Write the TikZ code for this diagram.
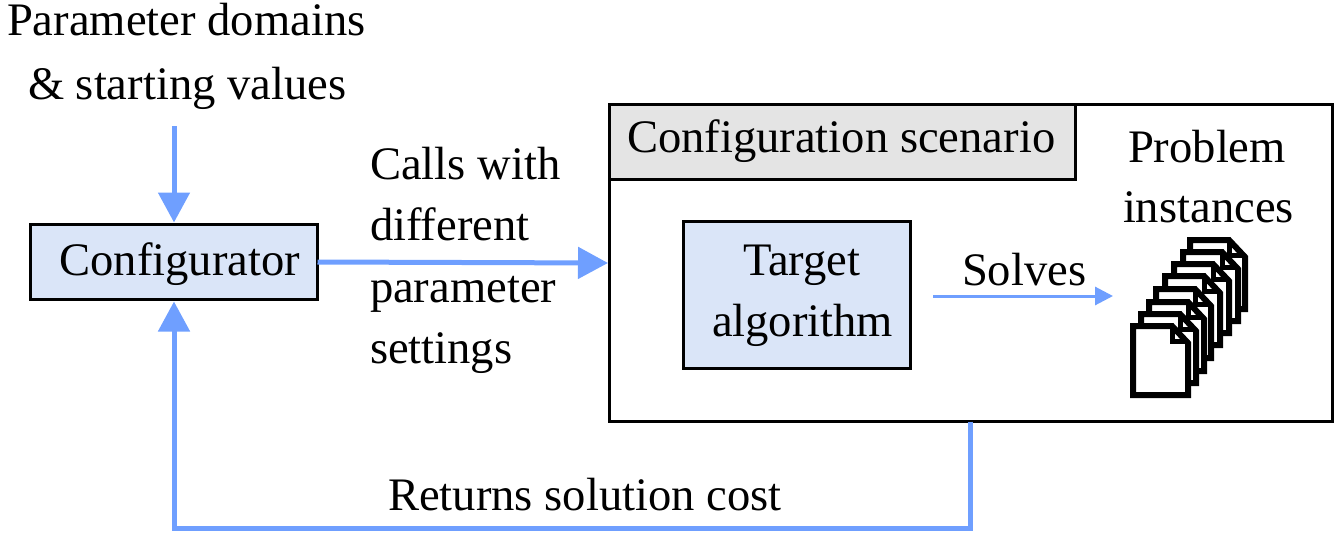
\documentclass[tikz,border=0pt]{standalone}
\usepackage{fontspec}
\setmainfont{Liberation Serif}
\usetikzlibrary{arrows.meta}
\definecolor{flowblue}{HTML}{6F9FFF}
\definecolor{boxblue}{HTML}{DAE5F8}
\definecolor{boxgray}{HTML}{E4E4E4}
\tikzset{
  txt/.style={anchor=base west,inner sep=0pt,outer sep=0pt,font=\fontsize{46.6pt}{50pt}\selectfont},
  box/.style={draw=black,line width=3pt,inner sep=0pt,outer sep=0pt,anchor=north west},
  flow/.style={draw=flowblue,line width=5pt,-{Triangle[length=30pt,width=31pt,fill=flowblue]}},
  thinflow/.style={draw=flowblue,line width=3pt,-{Triangle[length=18pt,width=18pt,fill=flowblue]}},
  sheet/.style={draw=black,fill=white,line width=6pt,line join=miter},
}
\newcommand{\docpage}[2]{%
  \begin{scope}[shift={(#1,#2)}]
    \draw[sheet] (0,0) -- (39,0) -- (55,17) -- (55,69) -- (0,69) -- cycle;
    \draw[black,line width=5pt] (39,0) -- (39,15) -- (53,15);
  \end{scope}}
\begin{document}
\begin{tikzpicture}[x=1pt,y=-1pt]
\useasboundingbox (0,0) rectangle (1341,544);
% boxes
\node[box,fill=boxblue,minimum width=287pt,minimum height=75pt] (cfg) at (30.5,224.5) {};
\node[box,fill=white,minimum width=723pt,minimum height=317pt] (scen) at (609,104.5) {};
\node[box,fill=boxgray,minimum width=466pt,minimum height=75pt] (scenhead) at (609,104.5) {};
\node[box,fill=boxblue,minimum width=227pt,minimum height=147pt] (target) at (683.5,221) {};
% labels
\node[txt] (pd) at (7,35) {Parameter domains};
\node[txt] (sv) at (28,99) {\& starting values};
\node[txt] (cfgt) at (59.5,275) {Configurator};
\node[txt] (c1) at (370,179) {Calls with};
\node[txt] (c2) at (370,240) {different};
\node[txt] (c3) at (370,302) {parameter};
\node[txt] (c4) at (370,363) {settings};
\node[txt] (sh) at (627,152) {Configuration scenario};
\node[txt] (tg) at (743,275) {Target};
\node[txt] (al) at (712,336) {algorithm};
\node[txt] (so) at (962,285) {Solves};
\node[txt] (pr) at (1128,162) {Problem};
\node[txt] (in) at (1123,222) {instances};
\node[txt] (rt) at (388,510) {Returns solution cost};
% document stack
\foreach \px/\py in {1190/240,1183/252,1174/264,1165/276,1156/289,1149/302,1141/314,1133/326}{\docpage{\px}{\py}}
% connectors
\coordinate (start) at (174,126);
\coordinate (retcorner) at (174,528);
\coordinate (solvesa) at (933,296);
\coordinate (solvesb) at (1113,296);
\draw[flow,shorten >=2pt] (start) -- (cfg.north);
\draw[flow,shorten >=1pt] (cfg.east) -- (scen.west);
\draw[flow,shorten >=2pt] (scen.south) |- (retcorner) -- (cfg.south);
\draw[thinflow] (solvesa) -- (solvesb);
\end{tikzpicture}
\end{document}
